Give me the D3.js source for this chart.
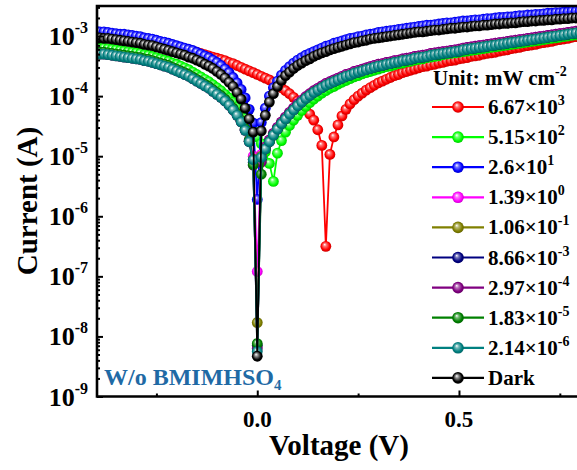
<!DOCTYPE html>
<html>
<head>
<meta charset="utf-8">
<script src="https://cdn.jsdelivr.net/npm/d3@7/dist/d3.min.js"></script>
<style>
body{margin:0;background:#fff;}
svg{display:block;font-family:"Liberation Serif","Times New Roman",serif;font-weight:bold;}
</style>
</head>
<body>
<svg id="chart" width="577" height="470"></svg>
<script>
// voltage sweep, -0.40 .. 0.80 V in 0.01 V steps
var voltage = d3.range(-40, 81).map(function (i) { return i / 100; });

// log10 |I| (A), one value per voltage step
var red = [
 -3.00,-3.01,-3.02,-3.03,-3.04,-3.05,-3.06,-3.07,-3.08,-3.09,
 -3.10,-3.11,-3.12,-3.13,-3.14,-3.15,-3.16,-3.17,-3.18,-3.19,
 -3.20,-3.21,-3.22,-3.24,-3.25,-3.27,-3.29,-3.31,-3.33,-3.35,
 -3.37,-3.39,-3.41,-3.44,-3.46,-3.49,-3.52,-3.55,-3.58,-3.61,
 -3.64,
 -3.67,-3.70,-3.73,-3.77,-3.81,-3.86,-3.91,-3.96,-4.02,-4.08,
 -4.15,-4.22,-4.30,-4.40,-4.56,-4.82,-6.50,-4.97,-4.68,-4.48,
 -4.33,-4.22,-4.13,-4.06,-4.00,-3.95,-3.90,-3.86,-3.82,-3.78,
 -3.75,-3.72,-3.69,-3.66,-3.64,-3.61,-3.59,-3.57,-3.55,-3.53,
 -3.51,-3.50,-3.48,-3.47,-3.45,-3.44,-3.42,-3.41,-3.40,-3.38,
 -3.37,-3.36,-3.34,-3.33,-3.32,-3.30,-3.29,-3.28,-3.27,-3.25,
 -3.24,-3.23,-3.21,-3.20,-3.19,-3.17,-3.16,-3.15,-3.14,-3.12,
 -3.11,-3.10,-3.09,-3.07,-3.06,-3.05,-3.04,-3.02,-3.01,-3.00];

var lime = [
 -3.19,-3.20,-3.20,-3.21,-3.22,-3.23,-3.24,-3.25,-3.26,-3.27,
 -3.28,-3.29,-3.31,-3.32,-3.34,-3.36,-3.38,-3.40,-3.42,-3.45,
 -3.47,-3.50,-3.53,-3.56,-3.60,-3.64,-3.68,-3.72,-3.76,-3.81,
 -3.86,-3.91,-3.97,-4.03,-4.10,-4.18,-4.27,-4.37,-4.48,-4.58,
 -4.68,
 -4.79,-4.93,-5.12,-5.42,-4.95,-4.74,-4.60,-4.49,-4.40,-4.32,
 -4.24,-4.17,-4.11,-4.05,-4.00,-3.95,-3.91,-3.87,-3.84,-3.80,
 -3.77,-3.74,-3.71,-3.68,-3.66,-3.63,-3.61,-3.59,-3.57,-3.55,
 -3.53,-3.51,-3.50,-3.48,-3.46,-3.45,-3.43,-3.42,-3.40,-3.39,
 -3.38,-3.36,-3.35,-3.34,-3.33,-3.31,-3.30,-3.29,-3.28,-3.27,
 -3.26,-3.25,-3.24,-3.23,-3.22,-3.21,-3.20,-3.19,-3.18,-3.17,
 -3.16,-3.15,-3.14,-3.13,-3.12,-3.11,-3.10,-3.09,-3.08,-3.07,
 -3.06,-3.05,-3.04,-3.03,-3.02,-3.01,-3.00,-2.99,-2.98,-2.97];

var blue = [
 -2.92,-2.93,-2.93,-2.94,-2.95,-2.96,-2.97,-2.97,-2.98,-2.99,
 -3.00,-3.01,-3.03,-3.04,-3.05,-3.07,-3.09,-3.10,-3.12,-3.14,
 -3.16,-3.18,-3.20,-3.22,-3.24,-3.27,-3.30,-3.33,-3.36,-3.40,
 -3.44,-3.49,-3.55,-3.61,-3.69,-3.78,-3.89,-4.03,-4.22,-4.45,
 -5.72,
 -4.44,-4.20,-4.00,-3.86,-3.75,-3.65,-3.57,-3.51,-3.45,-3.40,
 -3.36,-3.32,-3.29,-3.26,-3.23,-3.20,-3.17,-3.15,-3.12,-3.10,
 -3.08,-3.06,-3.04,-3.03,-3.01,-3.00,-2.98,-2.97,-2.96,-2.94,
 -2.93,-2.92,-2.91,-2.90,-2.89,-2.88,-2.87,-2.86,-2.85,-2.84,
 -2.83,-2.82,-2.82,-2.81,-2.80,-2.79,-2.78,-2.78,-2.77,-2.76,
 -2.75,-2.75,-2.74,-2.73,-2.73,-2.72,-2.71,-2.71,-2.70,-2.69,
 -2.69,-2.68,-2.68,-2.67,-2.66,-2.66,-2.65,-2.65,-2.64,-2.64,
 -2.63,-2.62,-2.62,-2.61,-2.61,-2.60,-2.60,-2.59,-2.59,-2.58];

var magenta = [
 -3.27,-3.28,-3.28,-3.29,-3.30,-3.31,-3.32,-3.33,-3.34,-3.35,
 -3.36,-3.37,-3.39,-3.40,-3.42,-3.44,-3.46,-3.48,-3.50,-3.53,
 -3.56,-3.59,-3.62,-3.65,-3.69,-3.73,-3.77,-3.81,-3.85,-3.90,
 -3.95,-4.00,-4.06,-4.13,-4.21,-4.30,-4.41,-4.55,-4.73,-5.00,
 -6.92,
 -4.97,-4.85,-4.73,-4.62,-4.52,-4.43,-4.35,-4.27,-4.20,-4.13,
 -4.07,-4.01,-3.96,-3.91,-3.87,-3.83,-3.79,-3.76,-3.73,-3.70,
 -3.67,-3.64,-3.62,-3.59,-3.57,-3.55,-3.53,-3.51,-3.49,-3.47,
 -3.46,-3.44,-3.43,-3.41,-3.40,-3.38,-3.37,-3.36,-3.34,-3.33,
 -3.32,-3.31,-3.29,-3.28,-3.27,-3.26,-3.25,-3.24,-3.23,-3.22,
 -3.20,-3.19,-3.18,-3.17,-3.16,-3.15,-3.14,-3.13,-3.12,-3.11,
 -3.10,-3.09,-3.08,-3.07,-3.06,-3.05,-3.04,-3.03,-3.02,-3.01,
 -3.00,-2.99,-2.98,-2.97,-2.96,-2.95,-2.94,-2.93,-2.92,-2.92];

var olive = [
 -3.28,-3.29,-3.29,-3.30,-3.31,-3.32,-3.33,-3.34,-3.35,-3.36,
 -3.37,-3.38,-3.40,-3.41,-3.43,-3.45,-3.47,-3.49,-3.51,-3.54,
 -3.57,-3.60,-3.63,-3.66,-3.70,-3.74,-3.78,-3.82,-3.86,-3.91,
 -3.96,-4.01,-4.07,-4.14,-4.22,-4.31,-4.42,-4.56,-4.75,-5.05,
 -7.77,
 -5.00,-4.87,-4.75,-4.64,-4.54,-4.45,-4.37,-4.29,-4.22,-4.15,
 -4.09,-4.03,-3.98,-3.93,-3.89,-3.85,-3.81,-3.78,-3.75,-3.72,
 -3.69,-3.66,-3.64,-3.61,-3.59,-3.57,-3.55,-3.53,-3.51,-3.49,
 -3.48,-3.46,-3.45,-3.43,-3.42,-3.40,-3.39,-3.38,-3.36,-3.35,
 -3.34,-3.33,-3.31,-3.30,-3.29,-3.28,-3.27,-3.26,-3.25,-3.24,
 -3.22,-3.21,-3.20,-3.19,-3.18,-3.17,-3.16,-3.15,-3.14,-3.13,
 -3.12,-3.11,-3.10,-3.09,-3.08,-3.07,-3.06,-3.05,-3.04,-3.03,
 -3.02,-3.01,-3.00,-2.99,-2.98,-2.97,-2.96,-2.95,-2.94,-2.94];

var navy = [
 -3.28,-3.29,-3.29,-3.30,-3.31,-3.32,-3.33,-3.34,-3.35,-3.36,
 -3.37,-3.38,-3.40,-3.41,-3.43,-3.45,-3.47,-3.49,-3.51,-3.54,
 -3.57,-3.60,-3.63,-3.66,-3.70,-3.74,-3.78,-3.82,-3.86,-3.91,
 -3.96,-4.01,-4.07,-4.14,-4.22,-4.31,-4.42,-4.56,-4.75,-5.10,
 -8.15,
 -5.05,-4.88,-4.76,-4.65,-4.55,-4.46,-4.38,-4.30,-4.23,-4.16,
 -4.10,-4.04,-3.99,-3.94,-3.90,-3.86,-3.82,-3.79,-3.76,-3.73,
 -3.70,-3.67,-3.65,-3.62,-3.60,-3.58,-3.56,-3.54,-3.52,-3.50,
 -3.49,-3.47,-3.46,-3.44,-3.43,-3.41,-3.40,-3.39,-3.37,-3.36,
 -3.35,-3.34,-3.32,-3.31,-3.30,-3.29,-3.28,-3.27,-3.26,-3.25,
 -3.23,-3.22,-3.21,-3.20,-3.19,-3.18,-3.17,-3.16,-3.15,-3.14,
 -3.13,-3.12,-3.11,-3.10,-3.09,-3.08,-3.07,-3.06,-3.05,-3.04,
 -3.03,-3.02,-3.01,-3.00,-2.99,-2.98,-2.97,-2.96,-2.95,-2.95];

var purple = [
 -3.29,-3.30,-3.30,-3.31,-3.32,-3.33,-3.34,-3.35,-3.36,-3.37,
 -3.38,-3.39,-3.41,-3.42,-3.44,-3.46,-3.48,-3.50,-3.52,-3.55,
 -3.58,-3.61,-3.64,-3.67,-3.71,-3.75,-3.79,-3.83,-3.87,-3.92,
 -3.97,-4.02,-4.08,-4.15,-4.23,-4.32,-4.43,-4.57,-4.76,-5.15,
 -8.20,
 -5.10,-4.85,-4.73,-4.62,-4.52,-4.43,-4.35,-4.27,-4.20,-4.13,
 -4.07,-4.01,-3.96,-3.91,-3.87,-3.83,-3.79,-3.76,-3.73,-3.70,
 -3.67,-3.64,-3.62,-3.59,-3.57,-3.55,-3.53,-3.51,-3.49,-3.47,
 -3.46,-3.44,-3.43,-3.41,-3.40,-3.38,-3.37,-3.36,-3.34,-3.33,
 -3.32,-3.31,-3.29,-3.28,-3.27,-3.26,-3.25,-3.24,-3.23,-3.22,
 -3.20,-3.19,-3.18,-3.17,-3.16,-3.15,-3.14,-3.13,-3.12,-3.11,
 -3.10,-3.09,-3.08,-3.07,-3.06,-3.05,-3.04,-3.03,-3.02,-3.01,
 -3.00,-2.99,-2.98,-2.97,-2.96,-2.95,-2.94,-2.93,-2.92,-2.92];

var darkGreen = [
 -3.26,-3.27,-3.27,-3.28,-3.29,-3.30,-3.31,-3.32,-3.33,-3.34,
 -3.35,-3.36,-3.38,-3.39,-3.41,-3.43,-3.45,-3.47,-3.49,-3.52,
 -3.55,-3.58,-3.61,-3.64,-3.68,-3.72,-3.76,-3.80,-3.84,-3.89,
 -3.94,-3.99,-4.05,-4.12,-4.20,-4.29,-4.40,-4.54,-4.73,-5.14,
 -8.12,
 -5.30,-4.88,-4.76,-4.65,-4.55,-4.46,-4.38,-4.30,-4.23,-4.16,
 -4.10,-4.04,-3.99,-3.94,-3.90,-3.86,-3.82,-3.79,-3.76,-3.73,
 -3.70,-3.67,-3.65,-3.62,-3.60,-3.58,-3.56,-3.54,-3.52,-3.50,
 -3.49,-3.47,-3.46,-3.44,-3.43,-3.41,-3.40,-3.39,-3.37,-3.36,
 -3.35,-3.34,-3.32,-3.31,-3.30,-3.29,-3.28,-3.27,-3.26,-3.25,
 -3.23,-3.22,-3.21,-3.20,-3.19,-3.18,-3.17,-3.16,-3.15,-3.14,
 -3.13,-3.12,-3.11,-3.10,-3.09,-3.08,-3.07,-3.06,-3.05,-3.04,
 -3.03,-3.02,-3.01,-3.00,-2.99,-2.98,-2.97,-2.96,-2.95,-2.95];

var teal = [
 -3.29,-3.30,-3.30,-3.31,-3.32,-3.33,-3.34,-3.35,-3.36,-3.37,
 -3.38,-3.39,-3.41,-3.42,-3.44,-3.46,-3.48,-3.50,-3.52,-3.55,
 -3.58,-3.61,-3.64,-3.67,-3.71,-3.75,-3.79,-3.83,-3.87,-3.92,
 -3.97,-4.02,-4.08,-4.15,-4.23,-4.32,-4.43,-4.57,-4.76,-5.06,
 -8.25,
 -5.02,-4.88,-4.76,-4.65,-4.55,-4.46,-4.38,-4.30,-4.23,-4.16,
 -4.10,-4.04,-3.99,-3.94,-3.90,-3.86,-3.82,-3.79,-3.76,-3.73,
 -3.70,-3.67,-3.65,-3.62,-3.60,-3.58,-3.56,-3.54,-3.52,-3.50,
 -3.49,-3.47,-3.46,-3.44,-3.43,-3.41,-3.40,-3.39,-3.37,-3.36,
 -3.35,-3.34,-3.32,-3.31,-3.30,-3.29,-3.28,-3.27,-3.26,-3.25,
 -3.23,-3.22,-3.21,-3.20,-3.19,-3.18,-3.17,-3.16,-3.15,-3.14,
 -3.13,-3.12,-3.11,-3.10,-3.09,-3.08,-3.07,-3.06,-3.05,-3.04,
 -3.03,-3.02,-3.01,-3.00,-2.99,-2.98,-2.97,-2.96,-2.95,-2.95];

var dark = [
 -3.02,-3.03,-3.04,-3.04,-3.05,-3.06,-3.07,-3.08,-3.09,-3.10,
 -3.11,-3.12,-3.14,-3.15,-3.16,-3.18,-3.20,-3.22,-3.24,-3.26,
 -3.28,-3.30,-3.32,-3.35,-3.37,-3.40,-3.43,-3.47,-3.50,-3.54,
 -3.59,-3.64,-3.70,-3.77,-3.84,-3.94,-4.05,-4.20,-4.38,-4.60,
 -8.33,
 -4.58,-4.32,-4.10,-3.96,-3.84,-3.74,-3.66,-3.60,-3.54,-3.49,
 -3.45,-3.41,-3.38,-3.34,-3.31,-3.28,-3.26,-3.23,-3.21,-3.19,
 -3.17,-3.15,-3.13,-3.11,-3.10,-3.08,-3.07,-3.05,-3.04,-3.03,
 -3.02,-3.01,-3.00,-2.99,-2.98,-2.97,-2.96,-2.95,-2.94,-2.93,
 -2.93,-2.92,-2.91,-2.90,-2.90,-2.89,-2.88,-2.87,-2.87,-2.86,
 -2.85,-2.85,-2.84,-2.83,-2.83,-2.82,-2.82,-2.81,-2.80,-2.80,
 -2.79,-2.79,-2.78,-2.78,-2.77,-2.76,-2.76,-2.75,-2.75,-2.74,
 -2.74,-2.73,-2.73,-2.72,-2.72,-2.71,-2.71,-2.70,-2.70,-2.69];

// legend text: mantissa part and power-of-ten exponent
var legendBase = ["6.67\u00d710", "5.15\u00d710", "2.6\u00d710", "1.39\u00d710", "1.06\u00d710",
                  "8.66\u00d710", "2.97\u00d710", "1.83\u00d710", "2.14\u00d710", "Dark"];
var legendExp = ["3", "2", "1", "0", "-1", "-3", "-4", "-5", "-6", ""];
var colors = ["#ff0000", "#00ff00", "#0000ff", "#ff00ff", "#808000",
              "#000080", "#800080", "#008000", "#008080", "#000000"];
var seriesValues = [red, lime, blue, magenta, olive, navy, purple, darkGreen, teal, dark];

var yMajorExp = [-9, -8, -7, -6, -5, -4, -3];
var xMajorTicks = [0, 0.5];
var xMinorTicks = [-0.25, 0.25, 0.75];
var xTickLabels = ["0.0", "0.5"];

var svg = d3.select("#chart");
var pLeft = 97, pTop = 6, pBottom = 396.5, pRight = 580;

var x = d3.scaleLinear().domain([-0.4, 0.8]).range([95.9, 580]);
var y = d3.scaleLog().domain([1e-9, Math.pow(10, -2.5)]).range([pBottom, pTop]);

var defs = svg.append("defs");
colors.forEach(function (c, i) {
    var g = defs.append("radialGradient").attr("id", "ball" + i)
        .attr("cx", "0.5").attr("cy", "0.5").attr("r", "0.55")
        .attr("fx", "0.38").attr("fy", "0.32");
    g.append("stop").attr("offset", "0%").attr("stop-color", "#ffffff");
    g.append("stop").attr("offset", "28%").attr("stop-color", d3.interpolateRgb(c, "#ffffff")(i === 9 ? 0.55 : 0.45));
    g.append("stop").attr("offset", "70%").attr("stop-color", c);
    g.append("stop").attr("offset", "100%").attr("stop-color", d3.color(c).darker(0.8));
});
defs.append("clipPath").attr("id", "plotClip")
    .append("rect").attr("x", pLeft).attr("y", pTop)
    .attr("width", pRight - pLeft).attr("height", pBottom - pTop);

var line = d3.line()
    .x(function (d, i) { return x(voltage[i]); })
    .y(function (d) { return y(Math.pow(10, d)); });

var plot = svg.append("g").attr("clip-path", "url(#plotClip)");
seriesValues.forEach(function (vals, k) {
    var g = plot.append("g");
    g.append("path").datum(vals).attr("d", line)
        .attr("fill", "none").attr("stroke", colors[k]).attr("stroke-width", 1.8);
    g.selectAll("circle").data(vals).enter().append("circle")
        .attr("cx", function (d, i) { return x(voltage[i]); })
        .attr("cy", function (d) { return y(Math.pow(10, d)); })
        .attr("r", 5.4)
        .attr("fill", "url(#ball" + k + ")");
});

// axes: ticks point inward
var yMinor = [];
yMajorExp.forEach(function (e) {
    for (var m = 2; m <= 9; m++) {
        var v = m * Math.pow(10, e);
        if (v < Math.pow(10, -2.5)) yMinor.push(v);
    }
});
var yMajor = yMajorExp.map(function (e) { return Math.pow(10, e); });

var yAx = svg.append("g").attr("transform", "translate(" + pLeft + ",0)");
yAx.call(d3.axisLeft(y).tickValues(yMajor).tickSize(-6).tickFormat(""));
yAx.select(".domain").remove();
var yAx2 = svg.append("g").attr("transform", "translate(" + pLeft + ",0)");
yAx2.call(d3.axisLeft(y).tickValues(yMinor).tickSize(-3).tickFormat(""));
yAx2.select(".domain").remove();

var xAx = svg.append("g").attr("transform", "translate(0," + pBottom + ")");
xAx.call(d3.axisBottom(x).tickValues(xMajorTicks).tickSize(-6).tickFormat(""));
xAx.select(".domain").remove();
var xAx2 = svg.append("g").attr("transform", "translate(0," + pBottom + ")");
xAx2.call(d3.axisBottom(x).tickValues(xMinorTicks).tickSize(-3).tickFormat(""));
xAx2.select(".domain").remove();
svg.selectAll(".tick line").attr("stroke", "#000").attr("stroke-width", 2);

// frame (right side falls outside the picture)
svg.append("path")
    .attr("d", "M" + pRight + "," + pTop + "H" + pLeft + "V" + pBottom + "H" + pRight)
    .attr("fill", "none").attr("stroke", "#000").attr("stroke-width", 2.6);

// tick labels
yMajorExp.forEach(function (e) {
    var t = svg.append("text").attr("x", 88).attr("y", y(Math.pow(10, e)) + 9)
        .attr("text-anchor", "end").attr("font-size", 26);
    t.append("tspan").text("10");
    t.append("tspan").attr("dy", -12).attr("font-size", 16).text(String(e));
});
xMajorTicks.forEach(function (v, i) {
    svg.append("text").attr("x", x(v)).attr("y", 427)
        .attr("text-anchor", "middle").attr("font-size", 23).text(xTickLabels[i]);
});

// axis titles
svg.append("text").attr("x", 339).attr("y", 455).attr("text-anchor", "middle")
    .attr("font-size", 29).text("Voltage (V)");
svg.append("text").attr("transform", "translate(37,201) rotate(-90)")
    .attr("text-anchor", "middle").attr("font-size", 29).text("Current (A)");

// sample note
var note = svg.append("text").attr("x", 104).attr("y", 385)
    .attr("font-size", 24).attr("fill", "#1f6aa5");
note.append("tspan").text("W/o BMIMHSO");
note.append("tspan").attr("dy", 5).attr("font-size", 15).text("4");

// legend
var lg = svg.append("g");
var head = lg.append("text").attr("x", 433).attr("y", 85).attr("font-size", 21);
head.append("tspan").text("Unit: mW cm");
head.append("tspan").attr("dy", -9).attr("font-size", 14).text("-2");

legendBase.forEach(function (b, i) {
    var ly = 107 + i * 30.1;
    lg.append("line").attr("x1", 432).attr("x2", 484).attr("y1", ly).attr("y2", ly)
        .attr("stroke", colors[i]).attr("stroke-width", 2.2);
    lg.append("circle").attr("cx", 458).attr("cy", ly).attr("r", 5.8)
        .attr("fill", "url(#ball" + i + ")");
    var t = lg.append("text").attr("x", 488).attr("y", ly + 7).attr("font-size", 21);
    t.append("tspan").text(b);
    if (legendExp[i]) t.append("tspan").attr("dy", -9).attr("font-size", 14).text(legendExp[i]);
});
</script>
</body>
</html>
